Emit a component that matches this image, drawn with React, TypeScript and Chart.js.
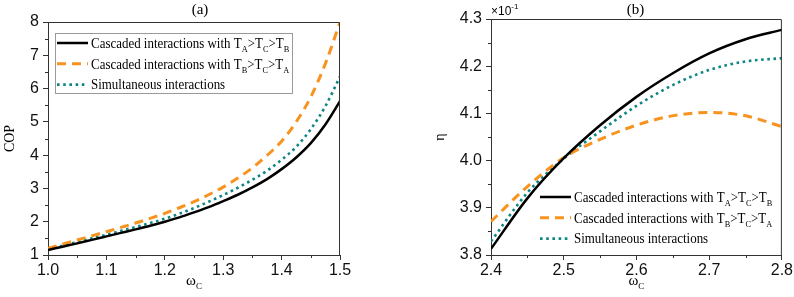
import { useEffect, useRef } from "react";
import { Chart, registerables } from "chart.js";

Chart.register(...registerables);

// ---------- Data: panel (a) ----------
const omegaA = [
  1.0, 1.025, 1.05, 1.075, 1.1, 1.125, 1.15, 1.175, 1.2, 1.225, 1.25, 1.275, 1.3, 1.325, 1.35, 1.375, 1.4, 1.425,
  1.45, 1.475, 1.5,
];
const copCascadedAB = [
  1.15, 1.25, 1.35, 1.455, 1.56, 1.665, 1.77, 1.88, 2.0, 2.13, 2.28, 2.44, 2.62, 2.81, 3.03, 3.28, 3.58, 3.93, 4.36,
  4.92, 5.62,
];
const copCascadedBA = [
  1.2, 1.325, 1.45, 1.575, 1.7, 1.83, 1.96, 2.1, 2.25, 2.42, 2.6, 2.81, 3.04, 3.31, 3.62, 3.99, 4.42, 5.0, 5.75, 6.75,
  8.0,
];
const copSimultaneous = [
  1.17, 1.28, 1.39, 1.5, 1.61, 1.725, 1.84, 1.96, 2.09, 2.24, 2.41, 2.6, 2.8, 3.02, 3.26, 3.53, 3.86, 4.25, 4.78, 5.47,
  6.36,
];
const ticksXA = [1.0, 1.1, 1.2, 1.3, 1.4, 1.5];
const ticksYA = [1, 2, 3, 4, 5, 6, 7, 8];

// ---------- Data: panel (b) (values ×10^-1) ----------
const omegaB = [2.4, 2.45, 2.5, 2.55, 2.6, 2.65, 2.7, 2.75, 2.8];
const etaCascadedAB = [3.813, 3.92, 4.005, 4.075, 4.135, 4.185, 4.227, 4.257, 4.277];
const etaCascadedBA = [3.871, 3.945, 4.006, 4.045, 4.075, 4.095, 4.102, 4.095, 4.072];
const etaSimultaneous = [3.829, 3.932, 4.004, 4.062, 4.116, 4.16, 4.192, 4.21, 4.217];
const ticksXB = [2.4, 2.5, 2.6, 2.7, 2.8];
const ticksYB = [3.8, 3.9, 4.0, 4.1, 4.2, 4.3];

const legendLabels = [
  [
    { t: "Cascaded interactions with T" },
    { t: "A", sub: true },
    { t: ">T" },
    { t: "C", sub: true },
    { t: ">T" },
    { t: "B", sub: true },
  ],
  [
    { t: "Cascaded interactions with T" },
    { t: "B", sub: true },
    { t: ">T" },
    { t: "C", sub: true },
    { t: ">T" },
    { t: "A", sub: true },
  ],
  [{ t: "Simultaneous interactions" }],
];

const BLACK = "#000000";
const ORANGE = "#F7931E";
const TEAL = "#0E8585";
const AXIS = "#333333";
const SERIF = '"Liberation Serif", "Times New Roman", serif';
const SANS = '"Liberation Sans", Arial, sans-serif';

type Part = { t: string; sub?: boolean };

function drawRich(
  ctx: CanvasRenderingContext2D,
  x: number,
  y: number,
  parts: Part[],
  size: number,
  sx = 1
) {
  ctx.textBaseline = "alphabetic";
  ctx.textAlign = "left";
  for (const p of parts) {
    const s = p.sub ? Math.round(size * 0.62) : size;
    ctx.font = `${s}px ${SERIF}`;
    ctx.save();
    ctx.translate(x, p.sub ? y + size * 0.28 : y);
    ctx.scale(sx, 1);
    ctx.fillText(p.t, 0, 0);
    ctx.restore();
    x += ctx.measureText(p.t).width * sx;
  }
  return x;
}

type Spec = {
  title: string;
  titleDx: number;
  yTitle: string;
  yTitleX: number;
  xMinor: number[];
  yMinor: number[];
  legendX: number;
  legendY: number;
  legendBox: boolean;
  exponent: boolean;
};

function makeDecor(spec: Spec) {
  return {
    id: "decor",
    afterDraw(chart: any) {
      const { ctx, chartArea: a, scales } = chart;
      const xs = scales.x;
      const ys = scales.y;
      ctx.save();
      // frame top & right
      ctx.strokeStyle = AXIS;
      ctx.lineWidth = 1;
      ctx.beginPath();
      ctx.moveTo(a.left, a.top + 0.5);
      ctx.lineTo(a.right - 0.5, a.top + 0.5);
      ctx.lineTo(a.right - 0.5, a.bottom);
      ctx.stroke();
      // minor ticks
      ctx.beginPath();
      for (const v of spec.xMinor) {
        const px = Math.round(xs.getPixelForValue(v)) + 0.5;
        ctx.moveTo(px, a.bottom);
        ctx.lineTo(px, a.bottom + 3);
      }
      for (const v of spec.yMinor) {
        const py = Math.round(ys.getPixelForValue(v)) + 0.5;
        ctx.moveTo(a.left, py);
        ctx.lineTo(a.left - 3, py);
      }
      ctx.stroke();

      ctx.fillStyle = "#000";
      // title
      ctx.font = `15px ${SERIF}`;
      ctx.textAlign = "center";
      ctx.textBaseline = "alphabetic";
      ctx.fillText(spec.title, (a.left + a.right) / 2 + spec.titleDx, 14);

      // x title: ω_C
      const cx = (a.left + a.right) / 2;
      ctx.font = `15px ${SERIF}`;
      const wW = ctx.measureText("ω").width;
      ctx.font = `9px ${SERIF}`;
      const wC = ctx.measureText("C").width;
      drawRich(ctx, cx - (wW + wC) / 2, 285, [{ t: "ω" }, { t: "C", sub: true }], 15);

      // y title rotated
      ctx.save();
      ctx.translate(spec.yTitleX, (a.top + a.bottom) / 2);
      ctx.rotate(-Math.PI / 2);
      ctx.font = `14px ${SERIF}`;
      ctx.textAlign = "center";
      ctx.textBaseline = "middle";
      ctx.fillText(spec.yTitle, 0, 0);
      ctx.restore();

      // exponent
      if (spec.exponent) {
        ctx.font = `12px ${SANS}`;
        ctx.textAlign = "left";
        ctx.textBaseline = "alphabetic";
        ctx.fillText("×10", a.left, 15);
        const w = ctx.measureText("×10").width;
        ctx.font = `8px ${SANS}`;
        ctx.fillText("-1", a.left + w, 9);
      }

      // legend
      const ds = chart.data.datasets;
      const lx = spec.legendX;
      const rowH = 20.8;
      if (spec.legendBox) {
        ctx.strokeStyle = "#9a9a9a";
        ctx.lineWidth = 1;
        ctx.strokeRect(lx - 1.5, spec.legendY - 10 + 0.5, 237, 60);
      }
      for (let i = 0; i < 3; i++) {
        const yy = spec.legendY + i * rowH;
        const d = ds[i];
        ctx.strokeStyle = d.borderColor;
        ctx.lineWidth = d.borderWidth;
        ctx.setLineDash(d.borderDash || []);
        ctx.beginPath();
        ctx.moveTo(lx, yy);
        ctx.lineTo(lx + 31, yy);
        ctx.stroke();
        ctx.setLineDash([]);
        ctx.fillStyle = "#000";
        drawRich(ctx, lx + 34, yy + 4.8, legendLabels[i], 14, 0.925);
      }
      ctx.restore();
    },
  };
}

function pts(xs: number[], ys: number[]) {
  return xs.map((x, i) => ({ x, y: ys[i] }));
}

function datasets(xs: number[], a: number[], b: number[], c: number[]) {
  const common = { pointRadius: 0, cubicInterpolationMode: "monotone" as const, fill: false };
  return [
    { ...common, data: pts(xs, a), borderColor: BLACK, borderWidth: 2.5 },
    { ...common, data: pts(xs, b), borderColor: ORANGE, borderWidth: 3, borderDash: [9, 6] },
    { ...common, data: pts(xs, c), borderColor: TEAL, borderWidth: 2.6, borderDash: [2.6, 3.6] },
  ];
}

function buildConfig(opts: {
  xs: number[];
  a: number[];
  b: number[];
  c: number[];
  xTicks: number[];
  yTicks: number[];
  yWidth: number;
  padRight: number;
  padTop: number;
  xHeight: number;
  spec: Spec;
  xDec: number;
  yDec: number;
}) {
  const tickFont = { family: SANS, size: 16 };
  return {
    type: "line" as const,
    data: { datasets: datasets(opts.xs, opts.a, opts.b, opts.c) },
    options: {
      animation: false as const,
      responsive: false,
      maintainAspectRatio: false,
      layout: { padding: { left: 0, right: opts.padRight, top: opts.padTop, bottom: 0 } },
      plugins: { legend: { display: false }, tooltip: { enabled: false }, title: { display: false } },
      scales: {
        x: {
          type: "linear" as const,
          min: opts.xTicks[0],
          max: opts.xTicks[opts.xTicks.length - 1],
          afterBuildTicks: (s: any) => {
            s.ticks = opts.xTicks.map((v) => ({ value: v }));
          },
          afterFit: (s: any) => {
            s.height = opts.xHeight;
          },
          grid: { display: true, drawOnChartArea: false, drawTicks: true, tickLength: 5, color: AXIS, lineWidth: 1 },
          border: { display: true, color: AXIS, width: 1 },
          ticks: {
            font: tickFont,
            color: "#111",
            padding: 1,
            maxRotation: 0,
            autoSkip: false,
            callback: (v: any) => Number(v).toFixed(opts.xDec),
          },
        },
        y: {
          type: "linear" as const,
          min: opts.yTicks[0],
          max: opts.yTicks[opts.yTicks.length - 1],
          afterBuildTicks: (s: any) => {
            s.ticks = opts.yTicks.map((v) => ({ value: v }));
          },
          afterFit: (s: any) => {
            s.width = opts.yWidth;
          },
          grid: { display: true, drawOnChartArea: false, drawTicks: true, tickLength: 5, color: AXIS, lineWidth: 1 },
          border: { display: true, color: AXIS, width: 1 },
          ticks: {
            font: tickFont,
            color: "#111",
            padding: 4,
            autoSkip: false,
            callback: (v: any) => Number(v).toFixed(opts.yDec),
          },
        },
      },
    },
    plugins: [makeDecor(opts.spec)],
  };
}

function Panel(props: { config: any; left: number }) {
  const ref = useRef<HTMLCanvasElement>(null);
  useEffect(() => {
    const chart = new Chart(ref.current as HTMLCanvasElement, props.config);
    return () => chart.destroy();
  }, []);
  return (
    <canvas
      ref={ref}
      width={397}
      height={297}
      style={{ position: "absolute", left: props.left, top: 0, width: 397, height: 297 }}
    />
  );
}

export default function App() {
  const cfgA = buildConfig({
    xs: omegaA,
    a: copCascadedAB,
    b: copCascadedBA,
    c: copSimultaneous,
    xTicks: ticksXA,
    yTicks: ticksYA,
    yWidth: 48,
    padRight: 57,
    padTop: 22,
    xHeight: 42,
    xDec: 1,
    yDec: 0,
    spec: {
      title: "(a)",
      titleDx: 6,
      yTitle: "COP",
      yTitleX: 10,
      xMinor: [1.05, 1.15, 1.25, 1.35, 1.45],
      yMinor: [1.5, 2.5, 3.5, 4.5, 5.5, 6.5, 7.5],
      legendX: 57,
      legendY: 43,
      legendBox: true,
      exponent: false,
    },
  });
  const cfgB = buildConfig({
    xs: omegaB,
    a: etaCascadedAB,
    b: etaCascadedBA,
    c: etaSimultaneous,
    xTicks: ticksXB,
    yTicks: ticksYB,
    yWidth: 94,
    padRight: 11,
    padTop: 19,
    xHeight: 42,
    xDec: 1,
    yDec: 1,
    spec: {
      title: "(b)",
      titleDx: -1,
      yTitle: "η",
      yTitleX: 43,
      xMinor: [2.45, 2.55, 2.65, 2.75],
      yMinor: [3.85, 3.95, 4.05, 4.15, 4.25],
      legendX: 143,
      legendY: 197,
      legendBox: false,
      exponent: true,
    },
  });
  return (
    <div style={{ position: "absolute", left: 0, top: 0, width: 794, height: 297, background: "#fff" }}>
      <Panel config={cfgA} left={0} />
      <Panel config={cfgB} left={397} />
    </div>
  );
}
